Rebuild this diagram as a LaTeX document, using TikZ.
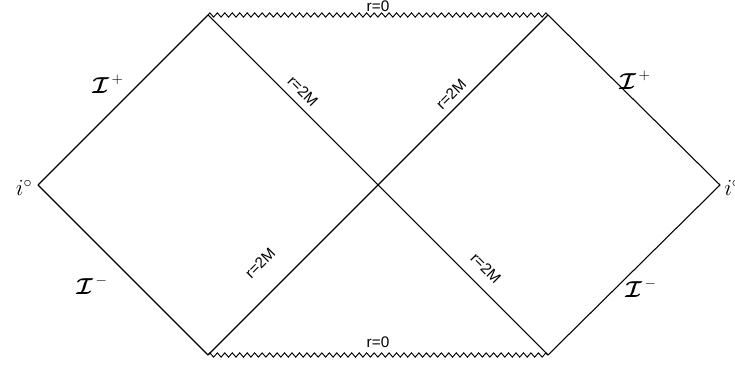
\documentclass[tikz,border=0pt]{standalone}
\usepackage{fontspec}
\setmainfont{Liberation Sans}
\usepackage{bm}
\usetikzlibrary{decorations.pathmorphing}
\begin{document}
\begin{tikzpicture}[x=0.75pt,y=-0.75pt,
  edge/.style={draw=black,line width=0.8pt},
  sing/.style={draw=black,line width=0.7pt,decorate,decoration={zigzag,segment length=5.6,amplitude=1.6}},
  lbl/.style={font=\fontsize{11.5}{13}\selectfont,inner sep=1pt},
  scri/.style={font=\fontsize{16}{18}\selectfont,inner sep=0pt},
  inf/.style={font=\fontsize{17}{19}\selectfont,inner sep=0pt}]
\useasboundingbox (0,0) rectangle (735,366);
\coordinate (L) at (38,185);
\coordinate (TL) at (208,15);
\coordinate (TR) at (548,15);
\coordinate (R) at (720,185);
\coordinate (BL) at (208,355);
\coordinate (BR) at (548,355);
\draw[edge] (L) -- (TL);
\draw[edge] (L) -- (BL);
\draw[edge] (R) -- (TR);
\draw[edge] (R) -- (BR);
\draw[edge] (TL) -- (BR);
\draw[edge] (BL) -- (TR);
\draw[sing] (TL) -- (TR);
\draw[sing] (BL) -- (BR);
\node[lbl] (rt) at (378,6) {r=0};
\node[lbl] (rb) at (378,342) {r=0};
\node[lbl,rotate=-45] (h1) at (303,91) {r=2M};
\node[lbl,rotate=45] (h2) at (451,94) {r=2M};
\node[lbl,rotate=45] (h3) at (260,263) {r=2M};
\node[lbl,rotate=-45] (h4) at (486,268) {r=2M};
\node[scri] (sp1) at (108,84) {$\bm{\mathcal{I}}^{\,+}$};
\node[scri] (sm1) at (92,285) {$\bm{\mathcal{I}}^{\,-}$};
\node[scri] (sp2) at (635,80) {$\bm{\mathcal{I}}^{\,+}$};
\node[scri] (sm2) at (641,288) {$\bm{\mathcal{I}}^{\,-}$};
\node[inf] (i1) at (24,188) {$i^{\circ}$};
\node[inf,anchor=west] (i2) at (724,188) {$i^{\circ}$};
\end{tikzpicture}
\end{document}
